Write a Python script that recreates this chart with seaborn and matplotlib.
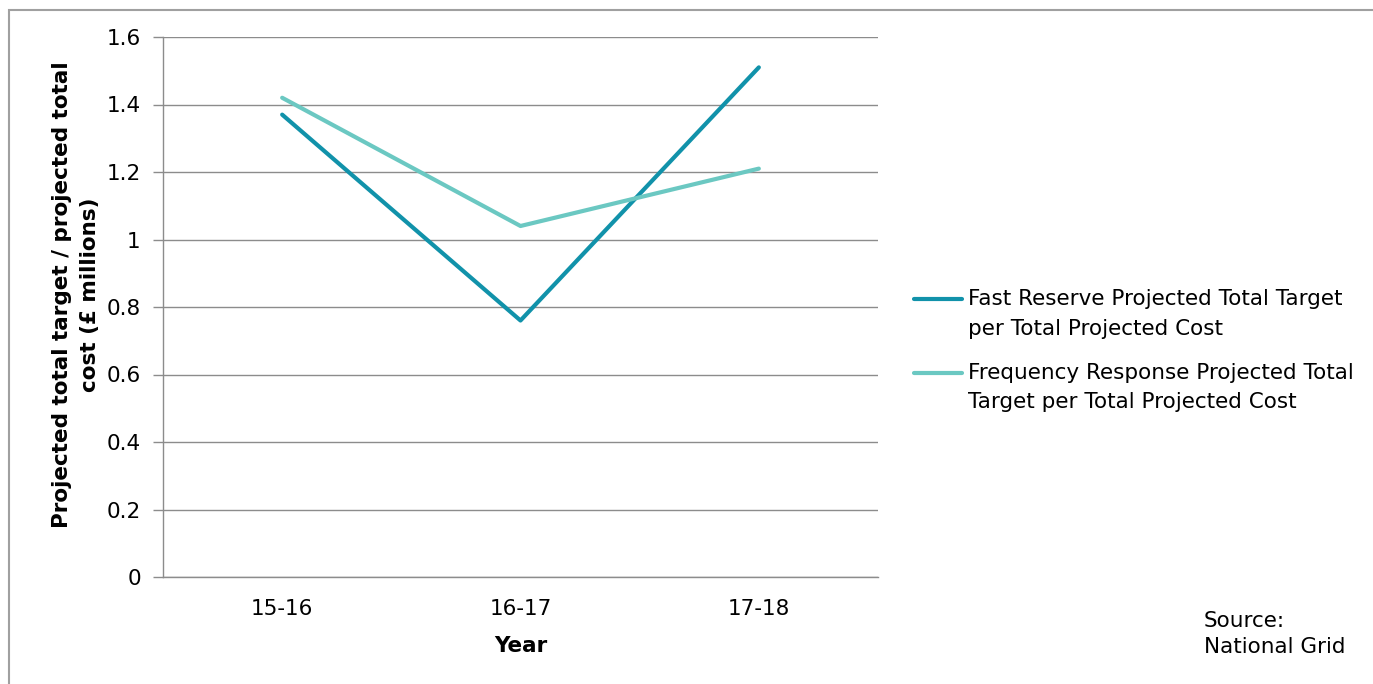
import matplotlib
matplotlib.use("Agg")
import matplotlib.pyplot as plt
import seaborn as sns
import pandas as pd
import numpy as np
from matplotlib.patches import Rectangle
from matplotlib.ticker import FixedLocator, FuncFormatter
from matplotlib.legend_handler import HandlerLine2D
from matplotlib.lines import Line2D

years = ["15-16", "16-17", "17-18"]
fast_reserve = [1.37, 0.76, 1.51]
freq_response = [1.42, 1.04, 1.21]
series_names = [
    "Fast Reserve Projected Total Target\nper Total Projected Cost",
    "Frequency Response Projected Total\nTarget per Total Projected Cost",
]
y_ticks = [0, 0.2, 0.4, 0.6, 0.8, 1.0, 1.2, 1.4, 1.6]

df = pd.DataFrame({
    "Year": years * 2,
    "Value": fast_reserve + freq_response,
    "Series": [series_names[0]] * 3 + [series_names[1]] * 3,
})

sns.set_theme(style="white")
plt.rcParams["font.family"] = ["DejaVu Sans"]
plt.rcParams["text.color"] = "black"

FS = 15.5


class HandlerFirstLine(HandlerLine2D):
    """Legend line aligned with the first line of a two-line label."""

    def __init__(self, shift, **kw):
        super().__init__(**kw)
        self.shift = shift

    def create_artists(self, *args, **kwargs):
        artists = super().create_artists(*args, **kwargs)
        for a in artists:
            a.set_ydata(np.asarray(a.get_ydata(), dtype=float) + self.shift)
        return artists


fig = plt.figure(figsize=(13.73, 6.84), dpi=100)
ax = fig.add_axes([163 / 1373, 1 - 577 / 684, (878 - 163) / 1373, (577 - 37) / 684])

# outer chart frame
fig.patches.append(Rectangle((9 / 1373, -0.05), 1.2, 1 - 10 / 684 + 0.05,
                             transform=fig.transFigure, fill=False,
                             edgecolor="#a0a0a0", linewidth=1.5))

palette = {series_names[0]: "#1192aa", series_names[1]: "#6bc8c2"}
sns.lineplot(data=df, x="Year", y="Value", hue="Series", palette=palette,
             linewidth=3.0, ax=ax, sort=False)

ax.set_xlim(-0.5, 2.5)
ax.set_ylim(0, 1.6)
ax.yaxis.set_major_locator(FixedLocator(y_ticks))
ax.yaxis.set_major_formatter(FuncFormatter(lambda v, p: f"{v:g}"))
ax.grid(axis="y", color="#8c8c8c", linewidth=1.0)
ax.set_axisbelow(True)

for side in ["top", "right"]:
    ax.spines[side].set_visible(False)
for side in ["left", "bottom"]:
    ax.spines[side].set_color("#8c8c8c")
    ax.spines[side].set_linewidth(1.0)

ax.set_xticks([0, 1, 2])
ax.set_xticks([-0.5, 0.5, 1.5, 2.5], minor=True)
ax.tick_params(axis="x", which="major", length=0, labelsize=FS, pad=16, labelcolor="black")
ax.tick_params(axis="x", which="minor", length=7, width=1.0, color="#8c8c8c", direction="out")
ax.tick_params(axis="y", length=7, width=1.0, color="#8c8c8c", direction="out",
               labelsize=FS, pad=9, left=True, labelcolor="black")

ax.set_xlabel("Year", fontsize=FS, fontweight="bold", labelpad=12, color="black")
ax.set_ylabel("Projected total target / projected total\ncost (£ millions)",
              fontsize=FS, fontweight="bold", labelpad=8, linespacing=1.5, color="black")
ax.yaxis.set_label_coords(-0.088, 0.522)

handles, labels = ax.get_legend_handles_labels()
leg = ax.legend(handles, labels, loc="upper left", bbox_to_anchor=(1.023, 0.569),
                frameon=False, fontsize=FS, handlelength=2.25, handletextpad=0.25,
                labelspacing=1.12,
                handler_map={Line2D: HandlerFirstLine(shift=10.8)})
for t in leg.get_texts():
    t.set_color("black")
    t.set_linespacing(1.6)

fig.text(1204 / 1373, 1 - 634 / 684, "Source:\nNational Grid", fontsize=FS,
         va="center", ha="left", linespacing=1.35, color="black")

fig.savefig("out.png", dpi=100, facecolor="white")
